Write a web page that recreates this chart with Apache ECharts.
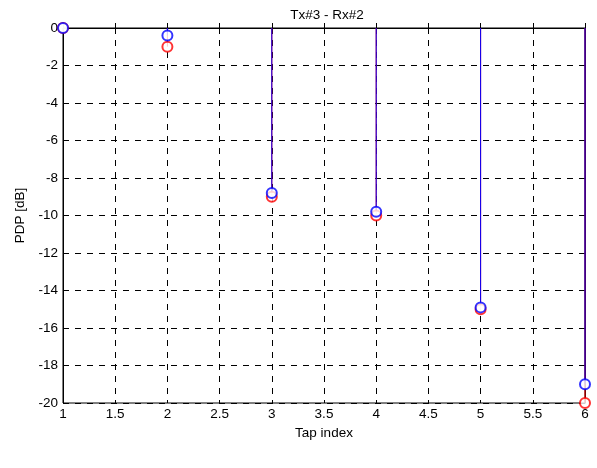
<!DOCTYPE html>
<html><head><meta charset="utf-8">
<script src="https://cdn.jsdelivr.net/npm/echarts@6/dist/echarts.min.js"></script>
<style>html,body{margin:0;padding:0;background:#fff}#c{width:597px;height:468px}</style>
</head><body><div id="c"></div>
<script>
var taps = [1, 2, 3, 4, 5, 6];
var redPDP = [0, -1, -9, -10, -15, -20];
var bluePDP = [0, -0.4, -8.8, -9.8, -14.9, -19];
var titleText = 'Tx#3 - Rx#2';
var xName = 'Tap index';
var yName = 'PDP [dB]';

function pairs(vals){ return taps.map(function(t,i){ return [t, vals[i]]; }); }
function stem(color){
  return function(params, api){
    var p0 = api.coord([api.value(0), 0]);
    var p1 = api.coord([api.value(0), api.value(1)]);
    return {type:'line', shape:{x1:p0[0], y1:p0[1], x2:p1[0], y2:p1[1]},
      style:{stroke:color, lineWidth:1}};
  };
}
var font = 'Liberation Sans, Arial, sans-serif';
var fs = 13.5;
var chart = echarts.init(document.getElementById('c'));
var axisLine = {show:true, lineStyle:{color:'#000', width:1}};
var axisTick = {show:true, inside:true, length:5, lineStyle:{color:'#000'}};
chart.setOption({
  animation:false,
  backgroundColor:'#fff',
  title:{text:titleText, left:322, top:3, textAlign:'center',
    textStyle:{fontFamily:font, fontSize:fs, fontWeight:'normal', color:'#000'}},
  grid:{left:63, right:12, top:28, bottom:65, show:true, borderColor:'#000', borderWidth:1},
  xAxis:[{
    type:'value', min:1, max:6, interval:0.5, position:'bottom',
    name:xName, nameLocation:'middle', nameGap:23,
    nameTextStyle:{fontFamily:font, fontSize:fs, color:'#000'},
    axisLine:axisLine, axisTick:axisTick,
    axisLabel:{fontFamily:font, fontSize:fs, color:'#000', margin:4},
    splitLine:{show:true, lineStyle:{color:'#000', type:[6,6], width:1}}
  },{
    type:'value', min:1, max:6, interval:0.5, position:'top',
    axisLine:axisLine, axisTick:axisTick,
    axisLabel:{show:false}, splitLine:{show:false}
  }],
  yAxis:[{
    type:'value', min:-20, max:0, interval:2, position:'left',
    name:yName, nameLocation:'middle', nameGap:34, nameRotate:90,
    nameTextStyle:{fontFamily:font, fontSize:fs, color:'#000'},
    axisLine:axisLine, axisTick:axisTick,
    axisLabel:{fontFamily:font, fontSize:fs, color:'#000', margin:5},
    splitLine:{show:true, lineStyle:{color:'#000', type:[6,6], width:1}}
  },{
    type:'value', min:-20, max:0, interval:2, position:'right',
    axisLine:axisLine, axisTick:axisTick,
    axisLabel:{show:false}, splitLine:{show:false}
  }],
  series:[
    {type:'custom', renderItem:stem('#ff0000'), data:pairs(redPDP), z:3, clip:false},
    {type:'custom', renderItem:stem('#0000ff'), data:pairs(bluePDP), z:4, clip:false},
    {type:'scatter', data:pairs(redPDP), symbol:'emptyCircle', symbolSize:10, z:5,
      itemStyle:{color:'#ff0000', borderColor:'#ff0000', borderWidth:0.8}},
    {type:'scatter', data:pairs(bluePDP), symbol:'emptyCircle', symbolSize:10, z:6,
      itemStyle:{color:'#0000ff', borderColor:'#0000ff', borderWidth:0.8}}
  ]
});
</script></body></html>
